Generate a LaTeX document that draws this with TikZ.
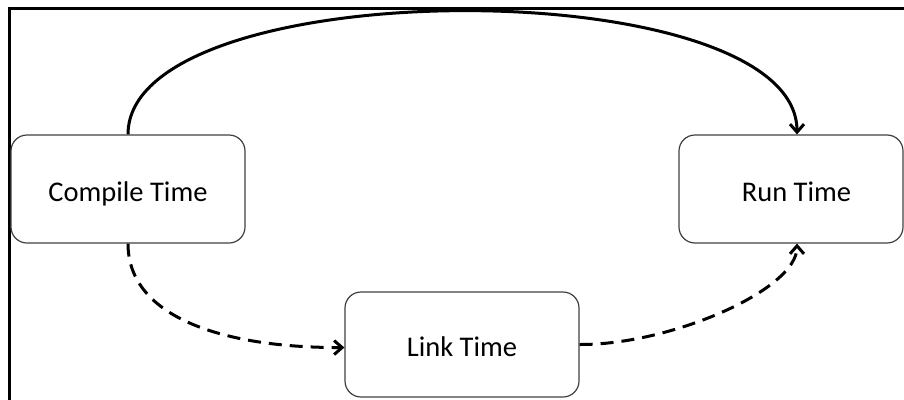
\documentclass[tikz,border=0pt]{standalone}
\usepackage{fontspec}
\setmainfont{Carlito}
\usetikzlibrary{arrows.meta}
\begin{document}
\begin{tikzpicture}[x=1pt,y=-1pt,
  box/.style={draw=black!75,line width=1.2pt,rounded corners=16pt,inner sep=0pt,
    text height=24pt,text depth=0pt,
    font=\fontsize{28.5}{34}\selectfont},
  conn/.style={line width=3pt,-{Straight Barb[length=8pt,width=14pt,line width=3pt]}},
  dashconn/.style={conn,dash pattern=on 13pt off 8pt}]
\useasboundingbox (0,0) rectangle (904,399);
\draw[line width=3pt] (9,400) -- (9,8) -- (905,8);
\node[box,minimum width=234pt,minimum height=108pt] (ct) at (128,189) {Compile Time};
\node[box,minimum width=224pt,minimum height=108pt] (rt) at (791,189) {\hspace*{11pt}Run Time};
\node[box,minimum width=234pt,minimum height=105pt] (lt) at (462,344.5) {Link Time};
\draw[conn] (ct.north) .. controls (128,-30) and (797,-30) .. ([xshift=6pt]rt.north);
\draw[dashconn] (ct.south) .. controls (128,320) and (230,348) .. ([yshift=-3pt]lt.west);
\draw[dashconn] ([yshift=0pt]lt.east) .. controls (670,345) and (797,290) .. ([xshift=6pt]rt.south);
\end{tikzpicture}
\end{document}
